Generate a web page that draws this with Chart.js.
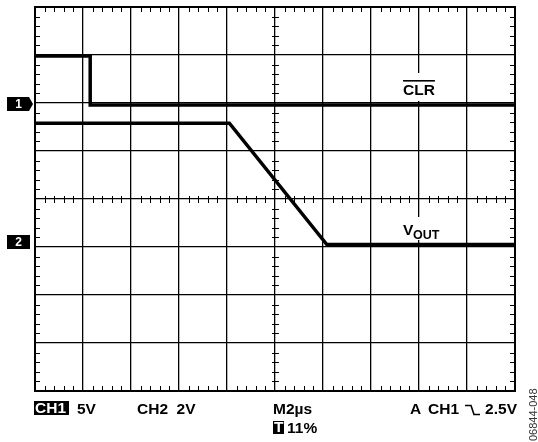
<!DOCTYPE html>
<html>
<head>
<meta charset="utf-8">
<script src="https://cdn.jsdelivr.net/npm/chart.js@4.4.1/dist/chart.umd.min.js"></script>
<style>
  html, body { margin: 0; padding: 0; background: #fff; }
  #contenedor { width: 538px; height: 442px; }
</style>
</head>
<body>
<div id="contenedor"><canvas id="osciloscopio" width="538" height="442"></canvas></div>
<script>
// ===================================== Datos (en divisiones de pantalla) ==================
// eje x: 0..10 divisiones (2us/div), eje y: -4..4 divisiones
const clrX = [0, 1.15, 1.15, 10];
const clrY = [2.98, 2.98, 1.96, 1.96];

const voutX = [0, 4.05, 6.08, 10];
const voutY = [1.58, 1.58, -0.95, -0.95];

const ch1Tierra = 1.97;   // marcador "1"
const ch2Tierra = -0.9;   // marcador "2"

const FUENTE = '"Liberation Sans", Arial, Helvetica, sans-serif';


// ===================================== Marcas menores y marco ==================
const marcasMenores = {
    id: 'marcasMenores',
    beforeDatasetsDraw(chart) {
        const { ctx, chartArea: a, scales: { x, y } } = chart;
        const y0 = Math.round(y.getPixelForValue(0));
        const x0 = Math.round(x.getPixelForValue(5));
        ctx.save();
        ctx.strokeStyle = '#000';
        ctx.lineWidth = 1;
        ctx.beginPath();
        for (let i = 1; i < 50; i++) {
            if (i % 5 === 0) continue;
            const px = Math.round(x.getPixelForValue(i * 0.2)) + 0.5;
            ctx.moveTo(px, a.top); ctx.lineTo(px, a.top + 5);
            ctx.moveTo(px, a.bottom); ctx.lineTo(px, a.bottom - 5);
            ctx.moveTo(px, y0 - 3); ctx.lineTo(px, y0 + 4);
        }
        for (let i = 1; i < 40; i++) {
            if (i % 5 === 0) continue;
            const py = Math.round(y.getPixelForValue(-4 + i * 0.2)) + 0.5;
            ctx.moveTo(a.left, py); ctx.lineTo(a.left + 5, py);
            ctx.moveTo(a.right, py); ctx.lineTo(a.right - 5, py);
            ctx.moveTo(x0 - 3, py); ctx.lineTo(x0 + 4, py);
        }
        ctx.stroke();
        ctx.lineWidth = 2;
        ctx.strokeRect(a.left, a.top, a.right - a.left, a.bottom - a.top);
        ctx.restore();
    }
};


// ===================================== Textos y marcadores ==================
function marcador(ctx, xIzq, yCentro, texto, flecha) {
    ctx.fillStyle = '#000';
    ctx.beginPath();
    ctx.moveTo(xIzq, yCentro - 7);
    ctx.lineTo(xIzq + 22, yCentro - 7);
    if (flecha) {
        ctx.lineTo(xIzq + 26, yCentro);
    } else {
        ctx.lineTo(xIzq + 23, yCentro - 7);
        ctx.lineTo(xIzq + 23, yCentro + 7);
    }
    ctx.lineTo(xIzq + 22, yCentro + 7);
    ctx.lineTo(xIzq, yCentro + 7);
    ctx.closePath();
    ctx.fill();
    ctx.fillStyle = '#fff';
    ctx.font = 'bold 12px ' + FUENTE;
    ctx.textAlign = 'center';
    ctx.textBaseline = 'middle';
    ctx.fillText(texto, xIzq + 11.5, yCentro + 1);
}

function invertido(ctx, x, y, w, h, texto) {
    ctx.fillStyle = '#000';
    ctx.fillRect(x, y, w, h);
    ctx.fillStyle = '#fff';
    ctx.textAlign = 'left';
    ctx.textBaseline = 'alphabetic';
    ctx.fillText(texto, x + 1, y + h - 2);
}

const textos = {
    id: 'textos',
    afterDraw(chart) {
        const { ctx, scales: { x, y } } = chart;
        ctx.save();

        // marcadores de canal
        marcador(ctx, 7, Math.round(y.getPixelForValue(ch1Tierra)), '1', true);
        marcador(ctx, 7, Math.round(y.getPixelForValue(ch2Tierra)), '2', false);

        // etiqueta CLR
        const xc = x.getPixelForValue(8);
        ctx.fillStyle = '#fff';
        ctx.fillRect(xc - 20, 73, 40, 28);
        ctx.fillStyle = '#000';
        ctx.font = 'bold 15.5px ' + FUENTE;
        ctx.textAlign = 'center';
        ctx.textBaseline = 'alphabetic';
        ctx.fillText('CLR', xc, 95);
        const wClr = ctx.measureText('CLR').width;
        ctx.fillRect(xc - wClr / 2, 80, wClr, 1.6);

        // etiqueta VOUT
        ctx.fillStyle = '#fff';
        ctx.fillRect(xc - 20, 217, 44, 23);
        ctx.fillStyle = '#000';
        ctx.textAlign = 'left';
        ctx.font = 'bold 15.5px ' + FUENTE;
        ctx.fillText('V', 403, 235);
        ctx.font = 'bold 12.5px ' + FUENTE;
        ctx.fillText('OUT', 413, 239);

        // linea inferior
        ctx.font = 'bold 15.5px ' + FUENTE;
        invertido(ctx, 34, 401, 35, 14, 'CH1');
        ctx.fillStyle = '#000';
        ctx.fillText('5V', 77, 414);
        ctx.fillText('CH2  2V', 137, 414);
        ctx.fillText('M2\u00b5s', 273, 414);
        ctx.fillText('A', 410, 414);
        ctx.fillText('CH1', 428, 414);
        ctx.textAlign = 'right';
        ctx.fillText('2.5V', 517, 414);
        // flanco descendente
        ctx.lineWidth = 1.6;
        ctx.strokeStyle = '#000';
        ctx.beginPath();
        ctx.moveTo(465, 405.5);
        ctx.lineTo(471, 405.5);
        ctx.lineTo(474, 414.5);
        ctx.lineTo(480, 414.5);
        ctx.stroke();

        invertido(ctx, 273, 421, 11, 13, 'T');
        ctx.fillStyle = '#000';
        ctx.textAlign = 'left';
        ctx.fillText('11%', 287, 433);

        // codigo de figura
        ctx.translate(537, 441);
        ctx.rotate(-Math.PI / 2);
        ctx.font = '11px ' + FUENTE;
        ctx.fillStyle = '#333';
        ctx.textAlign = 'left';
        ctx.fillText('06844-048', 0, 0);

        ctx.restore();
    }
};


// ===================================== Grafico ==================
const puntos = (xs, ys) => xs.map((v, i) => ({ x: v, y: ys[i] }));

const grilla = {
    color: '#000',
    lineWidth: 1.3,
    drawTicks: false
};

new Chart(document.getElementById('osciloscopio'), {
    type: 'scatter',
    data: {
        datasets: [
            { label: 'CLR', data: puntos(clrX, clrY), showLine: true, borderColor: '#000', borderWidth: 3.5, pointRadius: 0, tension: 0, borderJoinStyle: 'miter' },
            { label: 'VOUT', data: puntos(voutX, voutY), showLine: true, borderColor: '#000', borderWidth: 3.5, pointRadius: 0, tension: 0, borderJoinStyle: 'miter' }
        ]
    },
    options: {
        responsive: false,
        animation: false,
        layout: { padding: { left: 35, right: 23, top: 7, bottom: 51 } },
        plugins: { legend: { display: false }, tooltip: { enabled: false } },
        scales: {
            x: {
                type: 'linear', min: 0, max: 10,
                ticks: { display: false, stepSize: 1 },
                grid: grilla,
                border: { display: false }
            },
            y: {
                type: 'linear', min: -4, max: 4,
                ticks: { display: false, stepSize: 1 },
                grid: grilla,
                border: { display: false }
            }
        }
    },
    plugins: [marcasMenores, textos]
});
</script>
</body>
</html>
